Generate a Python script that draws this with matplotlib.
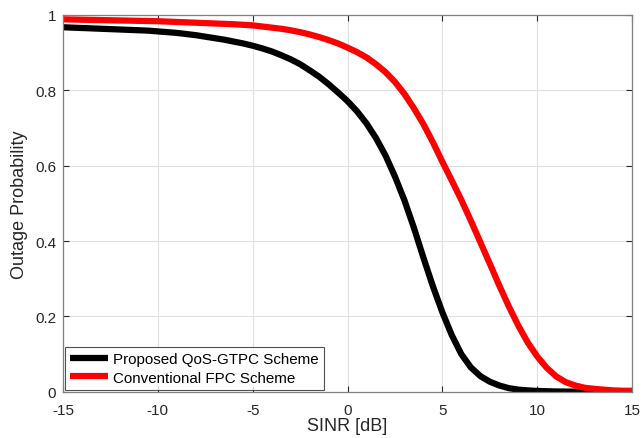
import matplotlib
matplotlib.use("Agg")
import matplotlib.pyplot as plt

plt.rcParams['font.family'] = ['Liberation Sans', 'DejaVu Sans']

sinr_db = [-15, -14.5, -14, -13.5, -13, -12.5, -12, -11.5, -11, -10.5,
           -10, -9.5, -9, -8.5, -8, -7.5, -7, -6.5, -6, -5.5,
           -5, -4.5, -4, -3.5, -3, -2.5, -2, -1.5, -1, -0.5,
           0, 0.5, 1, 1.5, 2, 2.5, 3, 3.5, 4, 4.5,
           5, 5.5, 6, 6.5, 7, 7.5, 8, 8.5, 9, 9.5,
           10, 10.5, 11, 11.5, 12, 12.5, 13, 13.5, 14, 14.5, 15]

proposed = [0.967, 0.966, 0.965, 0.964, 0.963, 0.962, 0.961, 0.960, 0.959, 0.958,
            0.956, 0.954, 0.952, 0.949, 0.946, 0.942, 0.938, 0.934, 0.929, 0.924,
            0.918, 0.911, 0.903, 0.893, 0.882, 0.869, 0.853, 0.836, 0.816, 0.794,
            0.771, 0.744, 0.712, 0.673, 0.627, 0.571, 0.508, 0.435, 0.356, 0.280,
            0.211, 0.150, 0.100, 0.065, 0.042, 0.027, 0.017, 0.010, 0.006, 0.004,
            0.0025, 0.0018, 0.0012, 0.0009, 0.0007, 0.0005, 0.0004, 0.0003, 0.0002, 0.0002, 0.0001]

conventional = [0.988, 0.9875, 0.987, 0.9865, 0.986, 0.9855, 0.985, 0.9845, 0.984, 0.9835,
                0.983, 0.982, 0.981, 0.980, 0.979, 0.978, 0.977, 0.976, 0.975, 0.9735,
                0.972, 0.969, 0.966, 0.963, 0.959, 0.954, 0.948, 0.941, 0.933, 0.924,
                0.913, 0.901, 0.887, 0.869, 0.848, 0.822, 0.790, 0.752, 0.710, 0.662,
                0.610, 0.560, 0.509, 0.454, 0.397, 0.340, 0.282, 0.227, 0.176, 0.131,
                0.094, 0.064, 0.041, 0.026, 0.017, 0.011, 0.008, 0.006, 0.004, 0.003, 0.003]

series_labels = ['Proposed QoS-GTPC Scheme', 'Conventional FPC Scheme']
x_ticks = [-15, -10, -5, 0, 5, 10, 15]
x_tick_labels = ['-15', '-10', '-5', '0', '5', '10', '15']
y_ticks = [0, 0.2, 0.4, 0.6, 0.8, 1.0]
y_tick_labels = ['0', '0.2', '0.4', '0.6', '0.8', '1']

fig = plt.figure(figsize=(6.43, 4.39), dpi=100)
ax = fig.add_axes([0.098, 0.105, 0.885, 0.859])

ax.plot(sinr_db, proposed, color='black', lw=4.5, label=series_labels[0],
        solid_joinstyle='round', solid_capstyle='butt')
ax.plot(sinr_db, conventional, color='#ff0000', lw=4.5, label=series_labels[1],
        solid_joinstyle='round', solid_capstyle='butt')

ax.set_xlim(-15, 15)
ax.set_ylim(0, 1)
ax.set_xticks(x_ticks, x_tick_labels)
ax.set_yticks(y_ticks, y_tick_labels)
ax.grid(True, color='#e0e0e0', lw=0.8)
ax.set_axisbelow(True)
ax.tick_params(direction='in', top=True, right=True, length=4, width=0.8,
               colors='#262626', labelsize=11)
ax.tick_params(axis='x', pad=8)
ax.tick_params(axis='y', pad=5)
for s in ax.spines.values():
    s.set_color('#808080')
    s.set_linewidth(0.9)

ax.set_xlabel('SINR [dB]', fontsize=13, color='#262626', labelpad=0)
ax.set_ylabel('Outage Probability', fontsize=13, color='#262626', labelpad=5)

leg = ax.legend(loc='lower left', fontsize=10.9, frameon=True, fancybox=False,
                borderaxespad=0.12, handlelength=2.5, handletextpad=0.35,
                borderpad=0.35, labelspacing=0.3)
leg.get_frame().set_edgecolor('#262626')
leg.get_frame().set_linewidth(0.8)
for line in leg.get_lines():
    line.set_linewidth(4.5)

fig.savefig('out.png', dpi=100)
